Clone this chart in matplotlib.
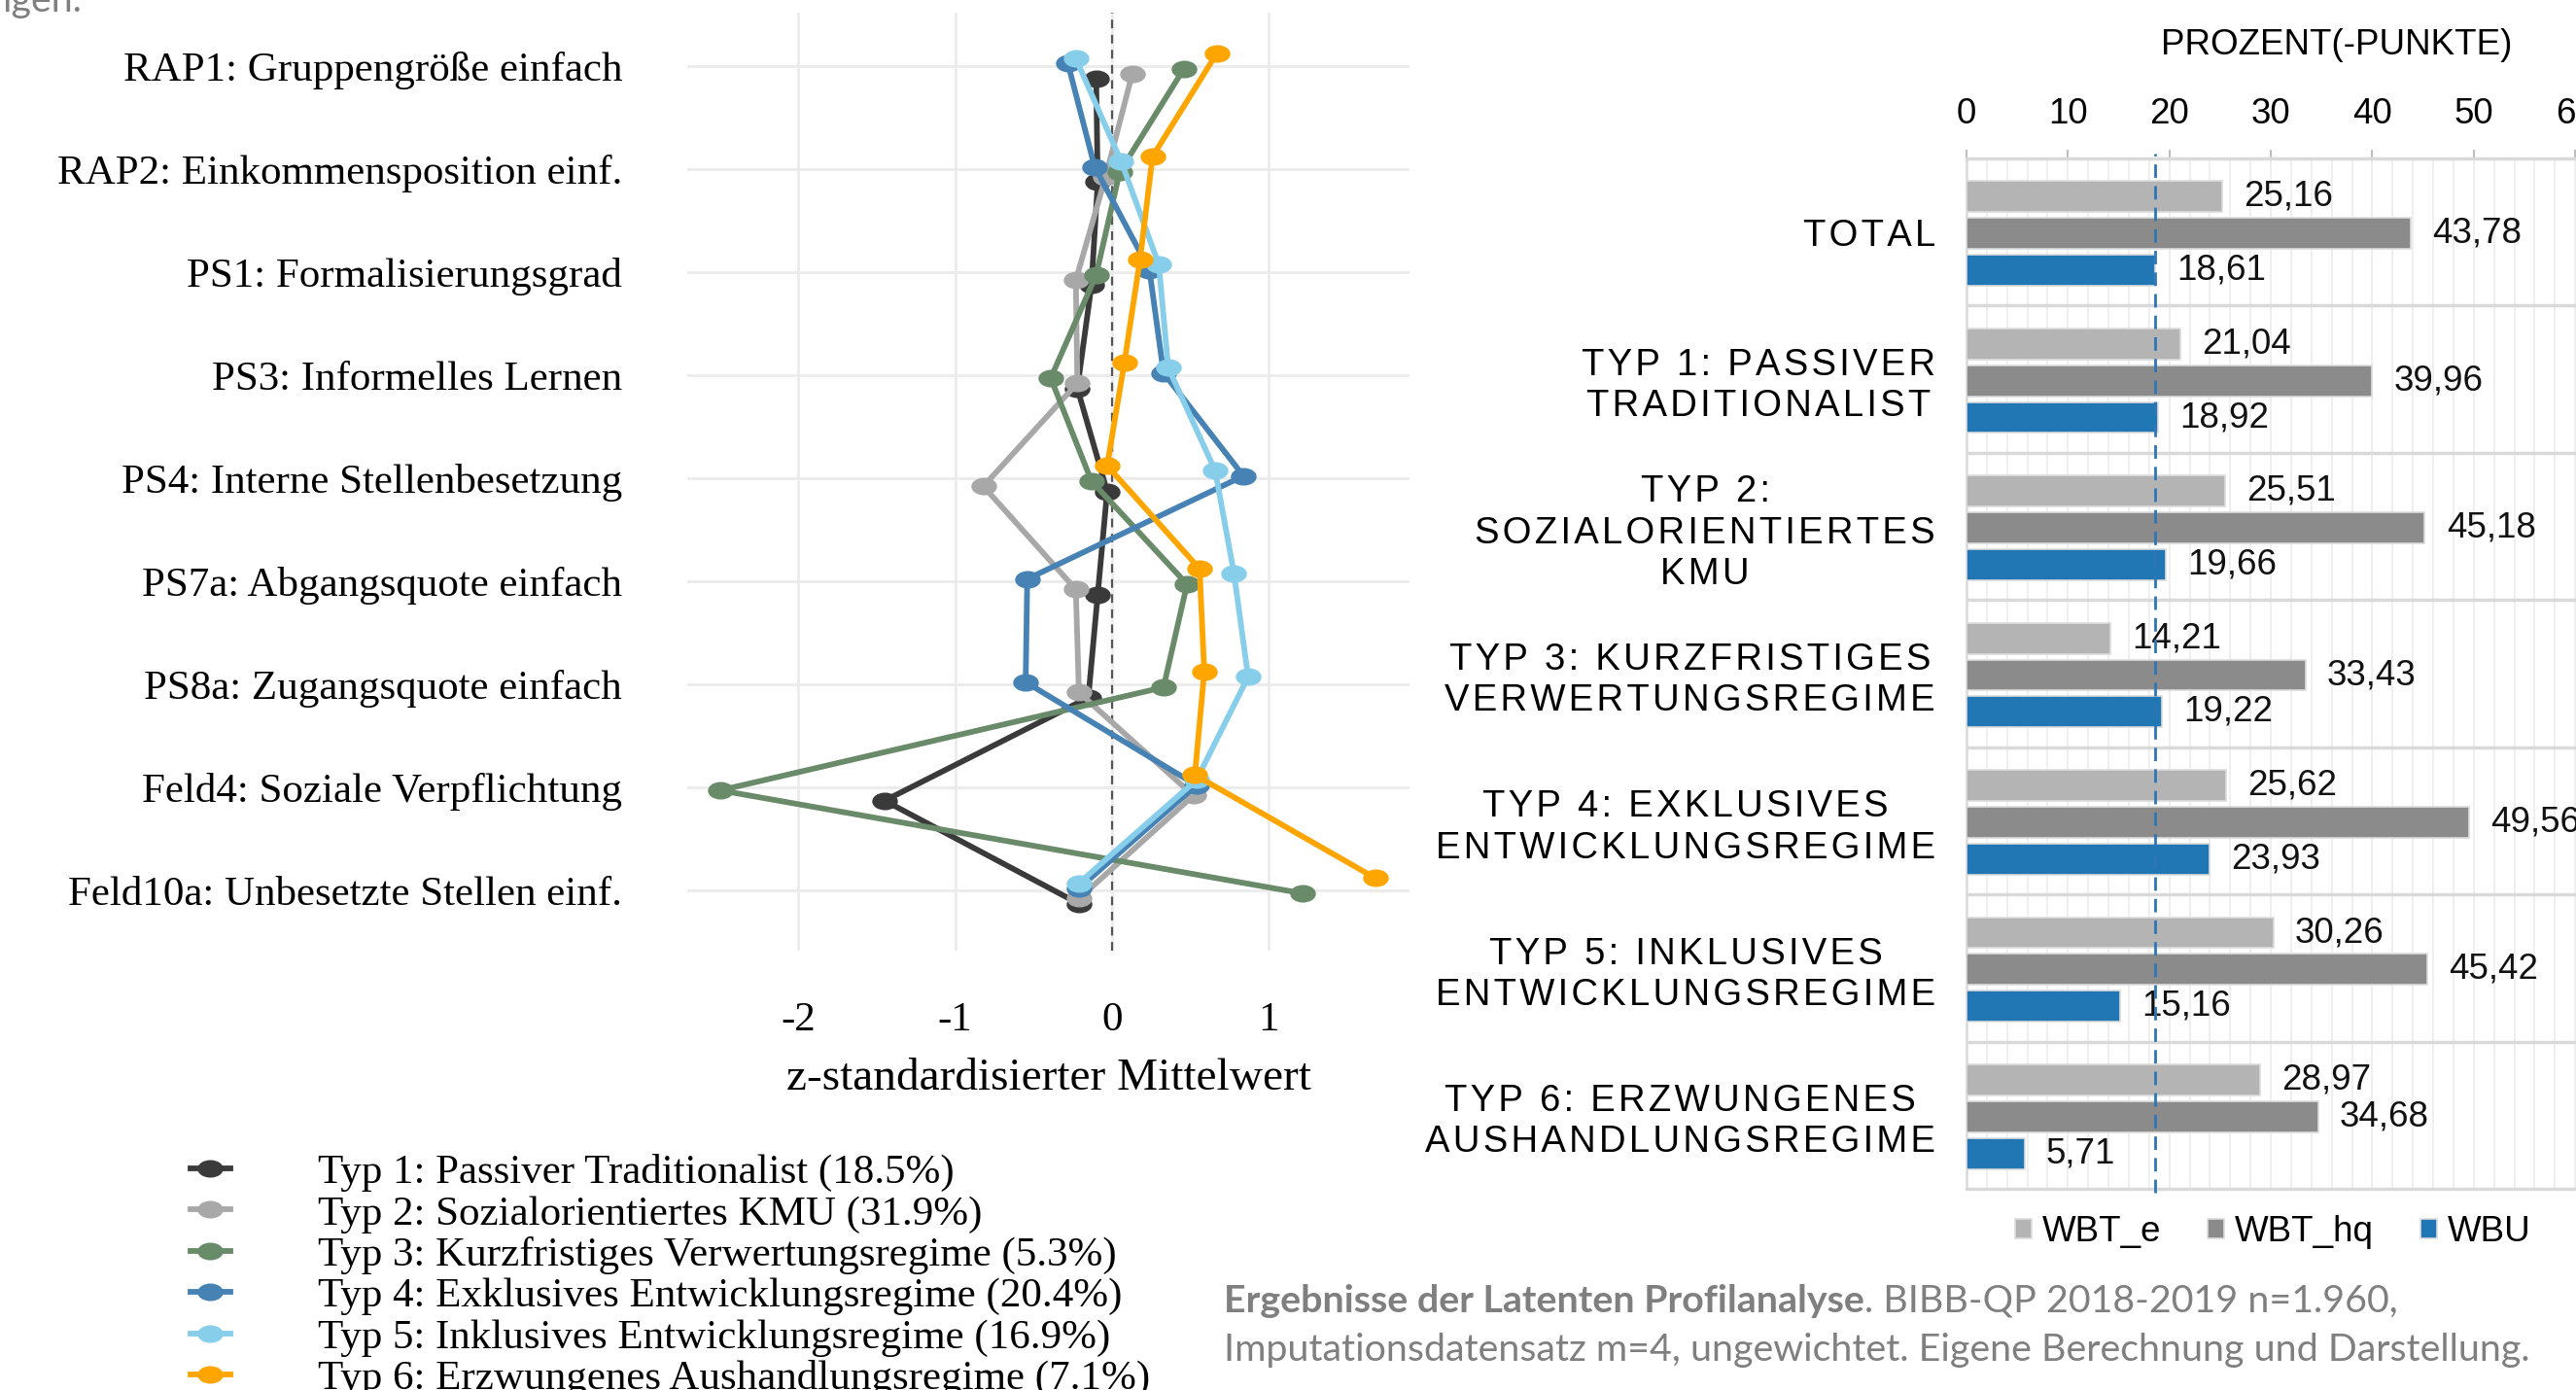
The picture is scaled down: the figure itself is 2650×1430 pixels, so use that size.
import numpy as np
import matplotlib.pyplot as plt
from matplotlib.path import Path
from matplotlib.transforms import Affine2D

# ---- left panel: profiles (z-standardised means) ----
merkmale = ['RAP1: Gruppengröße einfach', 'RAP2: Einkommensposition einf.',
            'PS1: Formalisierungsgrad', 'PS3: Informelles Lernen',
            'PS4: Interne Stellenbesetzung', 'PS7a: Abgangsquote einfach',
            'PS8a: Zugangsquote einfach', 'Feld4: Soziale Verpflichtung',
            'Feld10a: Unbesetzte Stellen einf.']
typ_labels = ['Typ 1: Passiver Traditionalist (18.5%)',
              'Typ 2: Sozialorientiertes KMU (31.9%)',
              'Typ 3: Kurzfristiges Verwertungsregime (5.3%)',
              'Typ 4: Exklusives Entwicklungsregime (20.4%)',
              'Typ 5: Inklusives Entwicklungsregime (16.9%)',
              'Typ 6: Erzwungenes Aushandlungsregime (7.1%)']
typ_colors = ['#3a3a3a', '#a8a8a8', '#698b69', '#4682b4', '#87ceeb', '#ffa500']
typ1 = [-0.10, -0.09, -0.13, -0.22, -0.03, -0.09, -0.15, -1.45, -0.21]
typ2 = [0.13, -0.04, -0.23, -0.22, -0.82, -0.23, -0.21, 0.52, -0.21]
typ3 = [0.46, 0.05, -0.10, -0.39, -0.13, 0.48, 0.33, -2.50, 1.22]
typ4 = [-0.28, -0.11, 0.24, 0.33, 0.84, -0.54, -0.55, 0.54, -0.21]
typ5 = [-0.23, 0.06, 0.30, 0.36, 0.66, 0.78, 0.87, 0.54, -0.21]
typ6 = [0.67, 0.26, 0.18, 0.08, -0.03, 0.56, 0.59, 0.53, 1.68]
profile = [typ1, typ2, typ3, typ4, typ5, typ6]

# ---- right panel: bars ----
kategorien = ['TOTAL', 'TYP 1: PASSIVER\nTRADITIONALIST',
              'TYP 2:\nSOZIALORIENTIERTES\nKMU',
              'TYP 3: KURZFRISTIGES\nVERWERTUNGSREGIME',
              'TYP 4: EXKLUSIVES\nENTWICKLUNGSREGIME',
              'TYP 5: INKLUSIVES\nENTWICKLUNGSREGIME',
              'TYP 6: ERZWUNGENES\nAUSHANDLUNGSREGIME']
wbt_e = [25.16, 21.04, 25.51, 14.21, 25.62, 30.26, 28.97]
wbt_hq = [43.78, 39.96, 45.18, 33.43, 49.56, 45.42, 34.68]
wbu = [18.61, 18.92, 19.66, 19.22, 23.93, 15.16, 5.71]
serien_namen = ['WBT_e', 'WBT_hq', 'WBU']
serien_farben = ['#b4b4b4', '#8b8b8b', '#2176b4']

serif = 'Liberation Serif'
sans = 'Liberation Sans'
W, H = 2650, 1430

fig = plt.figure(figsize=(26.5, 14.3), dpi=100)

# ================= left =================
ax = fig.add_axes([707 / W, 1 - 978 / H, (1450 - 707) / W, (978 - 13) / H])
ellipse = Path.unit_circle().transformed(Affine2D().scale(1.5, 1.0))
y = np.arange(len(merkmale))
for k, (werte, farbe, name) in enumerate(zip(profile, typ_colors, typ_labels)):
    dy = (2.5 - k) * 0.05
    ax.plot(werte, y + dy, color=farbe, lw=4.2, marker=ellipse, ms=18,
            label=name, zorder=3 + k)
ax.axvline(0, color='#555555', lw=1.6, ls=(0, (4, 3)), zorder=2)
ax.set_xlim(-2.71, 1.90)
ax.set_ylim(8.58, -0.52)
ax.set_xticks([-2, -1, 0, 1])
ax.set_xticklabels(['-2', '-1', '0', '1'])
ax.set_yticks(y)
ax.set_yticklabels(merkmale)
ax.grid(color='#ebebeb', lw=2)
ax.set_axisbelow(True)
for s in ax.spines.values():
    s.set_visible(False)
ax.tick_params(axis='both', length=0, labelsize=31)
ax.tick_params(axis='y', pad=48)
ax.tick_params(axis='x', pad=38)
for lab in ax.get_xticklabels() + ax.get_yticklabels():
    lab.set_fontfamily(serif)
ax.set_xlabel('z-standardisierter Mittelwert', fontsize=34, family=serif,
              labelpad=14)

h, l = ax.get_legend_handles_labels()
fig.legend(h, l, loc='upper left', bbox_to_anchor=(196 / W, 1 - 1187 / H),
           frameon=False, prop={'family': serif, 'size': 31},
           handlelength=0.95, handletextpad=2.1, labelspacing=0.075,
           borderpad=0, borderaxespad=0)

# ================= right =================
def sperren(text):
    return '\n'.join('\u200a'.join(zeile) for zeile in text.split('\n'))

ax2 = fig.add_axes([2023 / W, 1 - 1223 / H, 647 / W, 1060 / H])
pos = np.arange(len(kategorien))
versatz = [-0.24, 0.01, 0.26]
for serie, name, farbe, dv in zip([wbt_e, wbt_hq, wbu], serien_namen,
                                  serien_farben, versatz):
    bars = ax2.barh(pos + dv, serie, height=0.21, color=farbe, label=name,
                    edgecolor='#dcdcdc', lw=1.2, zorder=3)
    for b, v in zip(bars, serie):
        ax2.annotate(f'{v:.2f}'.replace('.', ','),
                     xy=(v, b.get_y() + b.get_height() / 2),
                     xytext=(16, 0), textcoords='offset points',
                     va='center', ha='left', fontsize=26.5, family=sans,
                     color='#111111', zorder=4)

ax2.axvline(wbu[0], ymin=-0.004, ymax=1.005, color='#2e75b6', lw=2,
            ls=(0, (5, 3)), zorder=5, clip_on=False)
ax2.set_xlim(0, 62)
ax2.set_ylim(len(kategorien) - 0.5, -0.5)
ax2.xaxis.tick_top()
ax2.set_xticks(np.arange(0, 61, 10))
ax2.set_xticks(np.arange(0, 62, 2), minor=True)
ax2.grid(axis='x', which='both', color='#ececec', lw=1.2, zorder=0)
ax2.set_axisbelow(True)
for g in np.arange(0.5, len(kategorien) - 0.5, 1):
    ax2.axhline(g, color='#d9d9d9', lw=2.5, zorder=1)
for side in ['top', 'bottom', 'left']:
    ax2.spines[side].set_color('#d9d9d9')
    ax2.spines[side].set_linewidth(2.5)
ax2.spines['left'].set_linewidth(1.8)
ax2.spines['right'].set_visible(False)
ax2.tick_params(axis='x', which='major', direction='out', length=6.5,
                width=1.5, color='#bfbfbf', labelsize=26.5, pad=14)
ax2.tick_params(axis='x', which='minor', length=0)
for lab in ax2.get_xticklabels():
    lab.set_fontfamily(sans)
ax2.set_yticks(pos)
ax2.set_yticklabels([sperren(k) for k in kategorien])
ax2.tick_params(axis='y', length=0, pad=23)
for lab in ax2.get_yticklabels():
    lab.set_fontfamily([sans, 'DejaVu Sans'])
    lab.set_fontsize(27.5)
    lab.set_multialignment('center')
    lab.set_linespacing(1.22)

ax2.legend(loc='center', bbox_to_anchor=(0.487, -0.042), ncol=3,
           frameon=False, prop={'family': sans, 'size': 26.5},
           handlelength=0.46, handleheight=0.46, handletextpad=0.3,
           columnspacing=1.3, borderpad=0)

fig.text(2404 / W, 1 - 47 / H, 'PROZENT(-PUNKTE)', ha='center', va='center',
         fontsize=26.5, family=sans)

# ================= caption / page text =================
grau = '#7f7f7f'
fett = fig.text(1259 / W, 1 - 1339 / H, 'Ergebnisse der Latenten Profilanalyse',
                ha='left', va='center', fontsize=28.4, weight='bold',
                family='Lato', color=grau)
ax2.annotate('. BIBB-QP 2018-2019 n=1.960,', xy=(1, 0), xycoords=fett,
             ha='left', va='bottom', fontsize=28.4, family='Lato', color=grau)
fig.text(1259 / W, 1 - 1389 / H,
         'Imputationsdatensatz m=4, ungewichtet. Eigene Berechnung und Darstellung.',
         ha='left', va='center', fontsize=28.4, family='Lato', color=grau)
fig.text(0.001, 1 - 12 / H, 'igen.', ha='left', va='baseline', fontsize=28.4,
         family='Lato', color=grau)

fig.savefig('out.png', dpi=100)
